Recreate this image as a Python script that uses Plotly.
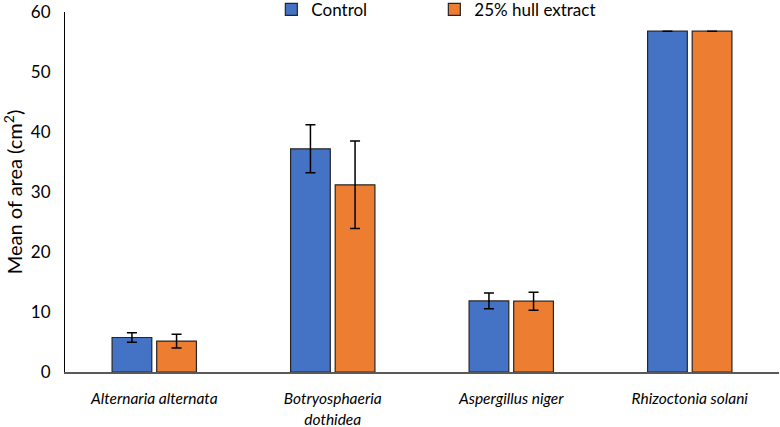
import plotly.graph_objects as go

categories = ["<i>Alternaria alternata</i>", "<i>Botryosphaeria<br>dothidea</i>",
              "<i>Aspergillus niger</i>", "<i>Rhizoctonia solani</i>"]
control = [5.75, 37.2, 11.85, 56.8]
control_err = [0.8, 4.0, 1.3, None]
hull = [5.15, 31.2, 11.8, 56.8]
hull_err = [1.15, 7.3, 1.5, None]
y_ticks = [0, 10, 20, 30, 40, 50, 60]

FONT = "Lato"
fig = go.Figure()
fig.add_trace(go.Bar(
    x=categories, y=control, name="Control",
    marker=dict(color="#4472C4", line=dict(color="#262626", width=1.2)),
    error_y=dict(type="data", array=control_err, visible=True, color="#000000", thickness=1.5, width=5),
))
fig.add_trace(go.Bar(
    x=categories, y=hull, name="25% hull extract",
    marker=dict(color="#ED7D31", line=dict(color="#262626", width=1.2)),
    error_y=dict(type="data", array=hull_err, visible=True, color="#000000", thickness=1.5, width=5),
))

fig.update_layout(
    width=780, height=427,
    margin=dict(l=65, r=1, t=12, b=55, autoexpand=False),
    paper_bgcolor="white", plot_bgcolor="white",
    barmode="group", bargap=0.5, bargroupgap=0.11,
    font=dict(family=FONT, size=17, color="#000000"),
    legend=dict(orientation="h", x=0.289, xanchor="left", yref="container", y=0.977, yanchor="middle",
                font=dict(family=FONT, size=17, color="#000000"),
                entrywidth=118, entrywidthmode="pixels", bgcolor="rgba(0,0,0,0)"),
    xaxis=dict(showline=True, linecolor="#595959", linewidth=1.5, ticks="",
               ticklabelstandoff=12,
               tickfont=dict(family=FONT, size=15.5, color="#000000"), showgrid=False),
    yaxis=dict(range=[0, 60], tickvals=y_ticks, showline=True, linecolor="#000000",
               linewidth=1.2, ticks="", showgrid=False, zeroline=False,
               ticklabelstandoff=10,
               tickfont=dict(family=FONT, size=17, color="#000000"),
               title=dict(text="Mean of area (cm<sup>2</sup>)", standoff=6,
                          font=dict(family=FONT, size=20, color="#000000"))),
)
fig.write_html("out.html")
